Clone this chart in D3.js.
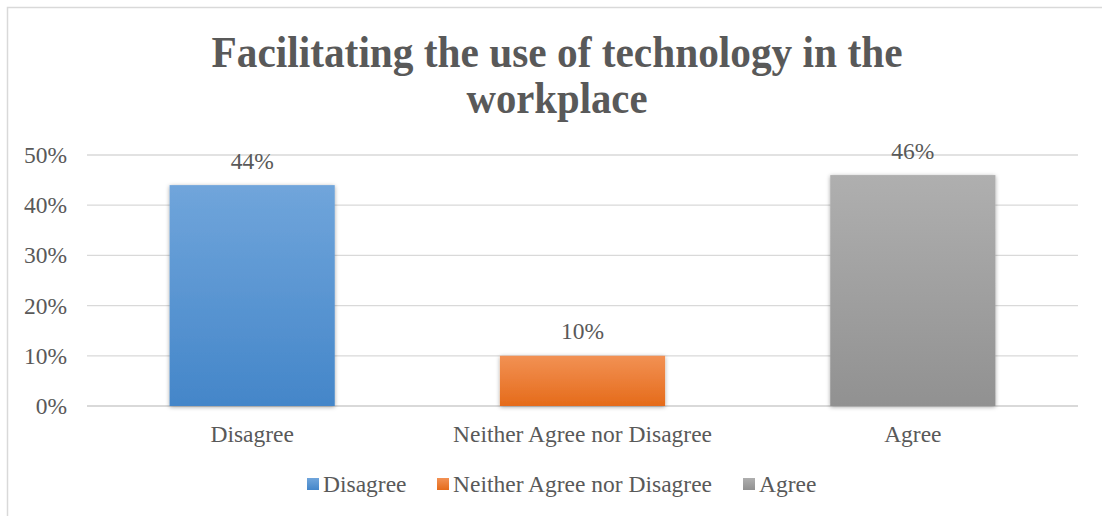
<!DOCTYPE html>
<html>
<head>
<meta charset="utf-8">
<script src="https://cdn.jsdelivr.net/npm/d3@7"></script>
<style>
  html, body { margin: 0; padding: 0; background: #fff; }
  svg { display: block; }
</style>
</head>
<body>
<script>
// Survey responses
const categories = ["Disagree", "Neither Agree nor Disagree", "Agree"];
const values = [0.44, 0.10, 0.46];
const tickValues = [0, 0.1, 0.2, 0.3, 0.4, 0.5];
const titleLines = ["Facilitating the use of technology in the", "workplace"];
const gradientStops = [
  ["#70a5db", "#4486c9"],
  ["#f29154", "#e56b1a"],
  ["#afafaf", "#919191"]
];

const W = 1102, H = 516;
const plot = { left: 87, right: 1078, top: 155, bottom: 406 };
const FONT = "Liberation Serif";
const TEXT = "#595959";
const LABEL_SIZE = 23.5;

const svg = d3.select("body").append("svg").attr("width", W).attr("height", H)
  .attr("font-family", FONT);
const defs = svg.append("defs");

gradientStops.forEach((s, i) => {
  const g = defs.append("linearGradient").attr("id", "grad" + i)
    .attr("x1", 0).attr("y1", 0).attr("x2", 0).attr("y2", 1);
  g.append("stop").attr("offset", "0%").attr("stop-color", s[0]);
  g.append("stop").attr("offset", "100%").attr("stop-color", s[1]);
});

const shadow = defs.append("filter").attr("id", "shadow")
  .attr("x", "-10%").attr("y", "-10%").attr("width", "120%").attr("height", "120%");
shadow.append("feDropShadow").attr("dx", 0).attr("dy", 1).attr("stdDeviation", 2.2)
  .attr("flood-color", "#000").attr("flood-opacity", 0.35);

// Chart frame
svg.append("rect").attr("x", 7.5).attr("y", 7.5).attr("width", W + 10).attr("height", H + 10)
  .attr("fill", "#fff").attr("stroke", "#d9d9d9").attr("stroke-width", 1.5);

// Title (two lines, condensed bold serif)
const titleWidths = [691, 181];
svg.append("g").selectAll("text").data(titleLines).join("text")
  .attr("x", 557).attr("y", (d, i) => 67 + i * 46)
  .attr("text-anchor", "middle")
  .attr("font-family", FONT).attr("font-weight", "bold").attr("font-size", 44)
  .attr("fill", TEXT)
  .attr("textLength", (d, i) => titleWidths[i])
  .attr("lengthAdjust", "spacingAndGlyphs")
  .text(d => d);

const x = d3.scaleBand().domain(categories)
  .range([plot.left, plot.right]).paddingInner(0.5).paddingOuter(0.25);
const y = d3.scaleLinear().domain([0, 0.5]).range([plot.bottom, plot.top]);

// Gridlines
svg.append("g").selectAll("line").data(tickValues).join("line")
  .attr("x1", plot.left).attr("x2", plot.right)
  .attr("y1", d => y(d)).attr("y2", d => y(d))
  .attr("stroke", "#d9d9d9").attr("stroke-width", d => d === 0 ? 2 : 1.3);

// Y axis labels
const yAxis = d3.axisLeft(y).tickValues(tickValues).tickFormat(d3.format(".0%")).tickSize(0).tickPadding(20);
const yg = svg.append("g").attr("transform", `translate(${plot.left},0)`).call(yAxis)
  .attr("font-family", FONT).attr("font-size", LABEL_SIZE);
yg.select(".domain").remove();
yg.selectAll("text").attr("fill", TEXT);

// Bars
svg.append("g").selectAll("rect").data(values).join("rect")
  .attr("x", (d, i) => x(categories[i]))
  .attr("y", d => y(d))
  .attr("width", x.bandwidth())
  .attr("height", d => y(0) - y(d))
  .attr("fill", (d, i) => `url(#grad${i})`)
  .attr("filter", "url(#shadow)");

// Value labels
svg.append("g").selectAll("text").data(values).join("text")
  .attr("x", (d, i) => x(categories[i]) + x.bandwidth() / 2)
  .attr("y", d => y(d) - 16.5)
  .attr("text-anchor", "middle").attr("font-size", LABEL_SIZE).attr("fill", TEXT)
  .text(d => d3.format(".0%")(d));

// Category axis labels
const xAxis = d3.axisBottom(x).tickSize(0).tickPadding(19);
const xg = svg.append("g").attr("transform", `translate(0,${plot.bottom})`).call(xAxis)
  .attr("font-family", FONT).attr("font-size", LABEL_SIZE);
xg.select(".domain").remove();
xg.selectAll("text").attr("fill", TEXT);

// Legend
const legendX = [307, 437, 743];
const lg = svg.append("g").selectAll("g").data(categories).join("g")
  .attr("transform", (d, i) => `translate(${legendX[i]},478)`);
lg.append("rect").attr("width", 12).attr("height", 12)
  .attr("fill", (d, i) => `url(#grad${i})`);
lg.append("text").attr("x", 16).attr("y", 14).attr("font-size", LABEL_SIZE).attr("fill", TEXT).text(d => d);
</script>
</body>
</html>
